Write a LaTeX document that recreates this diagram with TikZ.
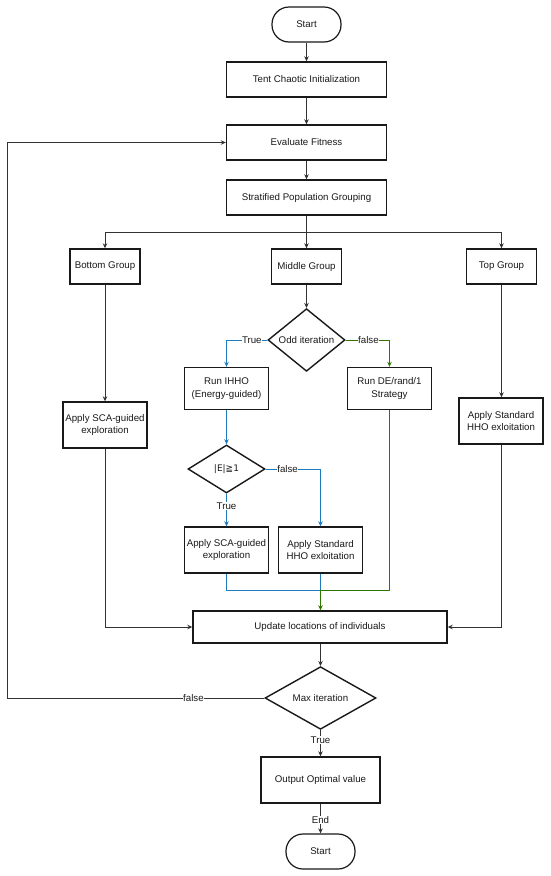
\documentclass[tikz,border=0pt]{standalone}
\usepackage{fontspec}
\setmainfont{Liberation Sans}
\usetikzlibrary{shapes.geometric,arrows.meta}
\definecolor{ln}{HTML}{333333}
\definecolor{bl}{HTML}{1F7BC0}
\definecolor{gr}{HTML}{2D7600}
\definecolor{tx}{HTML}{1A1A1A}
\tikzset{
  x=1pt,y=-1pt,
  every node/.style={font=\fontsize{9.7}{12.3}\selectfont,text=tx},
  proc/.style={draw=black!90,line width=1.4pt,rectangle,align=center,inner sep=1pt,minimum width=84pt,minimum height=46pt},
  term/.style={draw=black!90,line width=1.2pt,rectangle,rounded corners=17pt,minimum width=69pt,minimum height=35pt,inner sep=1pt},
  dec/.style={draw=black!90,line width=1.4pt,diamond,inner sep=0pt,align=center},
  conn/.style={draw=ln,line width=0.8pt,-{Stealth[length=5pt,width=4.5pt]}},
  plain/.style={draw=ln,line width=0.8pt},
  blc/.style={draw=bl,line width=0.8pt},
  grc/.style={draw=gr,line width=0.8pt},
  lab/.style={fill=white,inner sep=0.5pt}
}
\begin{document}
\begin{tikzpicture}
\useasboundingbox (0,0) rectangle (550,876);
\fill[white] (0,0) rectangle (550,876);
% nodes
\node[term] (start) at (306.5,24.5) {Start};
\node[proc,minimum width=160pt,minimum height=35pt] (tent) at (306.5,79.5) {Tent Chaotic Initialization};
\node[proc,minimum width=160pt,minimum height=35pt] (eval) at (306.5,142.5) {Evaluate Fitness};
\node[proc,minimum width=160pt,minimum height=35pt] (strat) at (306.5,197.5) {Stratified Population Grouping};
\node[proc,minimum width=70pt,minimum height=35pt] (bottom) at (105,266.5) {Bottom Group};
\node[proc,minimum width=70pt,minimum height=35pt] (middle) at (306.5,266.5) {Middle Group};
\node[proc,minimum width=70pt,minimum height=35pt] (top) at (501.5,266.5) {Top Group};
\node[dec,minimum width=77pt,minimum height=48pt] (odd) at (306.5,340) {Odd iteration};
\node[proc,minimum height=42pt] (ihho) at (226.5,388.5) {Run IHHO\\(Energy-guided)};
\node[proc,minimum height=42pt] (de) at (389.5,388.5) {Run DE/rand/1\\Strategy};
\node[proc] (scaL) at (105,425) {Apply SCA-guided\\exploration};
\node[proc] (stdR) at (501,421) {Apply Standard\\HHO exloitation};
\node[dec,minimum width=77pt,minimum height=48pt] (edec) at (226.5,469) {\fontspec{DejaVu Sans}\fontsize{9}{11}\selectfont |E|≧1};
\node[proc] (sca) at (226.5,550) {Apply SCA-guided\\exploration};
\node[proc] (std) at (320.5,550) {Apply Standard\\HHO exloitation};
\node[proc,minimum width=254pt,minimum height=32pt] (upd) at (320,627) {Update locations of individuals};
\node[dec,minimum width=111pt,minimum height=48pt] (maxit) at (320.5,698) {Max iteration};
\node[proc,minimum width=119pt] (out) at (320.5,780) {Output Optimal value};
\node[term] (fin) at (320.5,851.5) {Start};
\coordinate (split) at (306.5,232.7);
\coordinate (merge) at (320.5,590);
\coordinate (loopc) at (7.7,698);
% connectors
\draw[conn] (start) -- (tent);
\draw[conn] (tent) -- (eval);
\draw[conn] (eval) -- (strat);
\draw[plain] (strat) -- (split);
\draw[conn] (split) -- (middle);
\draw[conn] (split) -| (bottom);
\draw[conn] (split) -| (top);
\draw[conn] (middle) -- (odd);
\draw[conn,draw=bl,-{Stealth[length=5pt,width=4.5pt,fill=bl]}] (odd.west) -| node[lab,pos=0.19]{True} (ihho.north);
\draw[conn,draw=gr,-{Stealth[length=5pt,width=4.5pt,fill=gr]}] (odd.east) -| node[lab,pos=0.26]{false} (de.north);
\draw[conn,draw=bl,-{Stealth[length=5pt,width=4.5pt,fill=bl]}] (ihho) -- (edec);
\draw[conn,draw=bl,-{Stealth[length=5pt,width=4.5pt,fill=bl]}] (edec.east) -| node[lab,pos=0.2]{false} (std.north);
\draw[conn,draw=bl,-{Stealth[length=5pt,width=4.5pt,fill=bl]}] (edec.south) -- node[lab,pos=0.38]{True} (sca.north);
\draw[blc] (sca.south) |- (merge);
\draw[blc] (std.south) -- (merge);
\draw[grc] (de.south) |- (merge);
\draw[conn,draw=gr,-{Stealth[length=5pt,width=4.5pt,fill=gr]}] (merge) -- (upd.north -| merge);
\draw[conn] (bottom) -- (scaL);
\draw[conn] (scaL.south) |- (upd.west);
\draw[conn] (top.south) -- (stdR.north -| top.south);
\draw[conn] (stdR.south) |- (upd.east);
\draw[conn] (upd.south -| maxit.north) -- (maxit.north);
\draw[conn] (maxit.west) -- node[lab,pos=0.276]{false} (loopc) |- (eval.west);
\draw[conn] (maxit.south) -- node[lab,pos=0.37]{True} (out.north);
\draw[conn] (out.south) -- node[lab,pos=0.55]{End} (fin.north);
\end{tikzpicture}
\end{document}
